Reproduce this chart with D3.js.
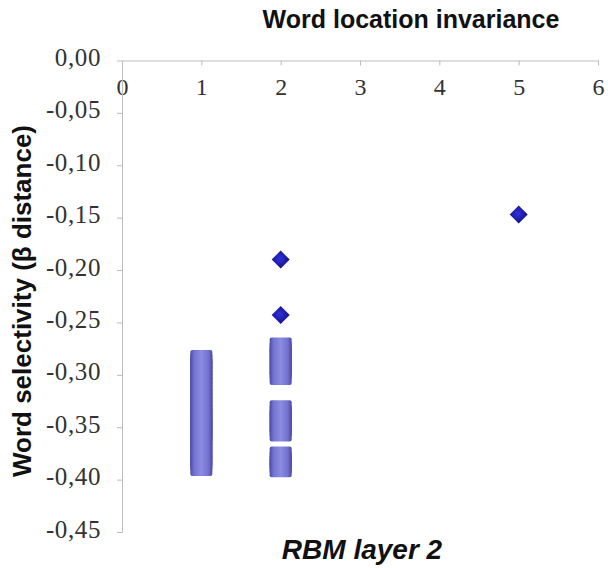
<!DOCTYPE html>
<html>
<head>
<meta charset="utf-8">
<script src="https://cdn.jsdelivr.net/npm/d3@7"></script>
<style>
  body { margin: 0; background: #fff; }
  svg { display: block; }
</style>
</head>
<body>
<svg id="chart" width="608" height="568"></svg>
<script>
// Word location invariance — RBM layer 2 scatter

const xTicks = [0, 1, 2, 3, 4, 5, 6];
const yTicks = [0, -0.05, -0.10, -0.15, -0.20, -0.25, -0.30, -0.35, -0.40, -0.45];

// one series: number of locations (x) vs word selectivity (y)
const pointX = [
  1, 1, 1, 1, 1, 1, 1, 1, 1, 1, 1, 1, 1, 1, 1, 1,
  1, 1, 1, 1, 1, 1, 1, 1, 1, 1, 1, 1, 1, 1, 1,
  2, 2, 2, 2, 2, 2, 2, 2,
  2, 2, 2, 2, 2, 2, 2,
  2, 2, 2, 2, 2,
  2, 2, 5
];
const pointY = [
  -0.284, -0.287, -0.291, -0.294, -0.298, -0.302, -0.305, -0.309, -0.313, -0.317, -0.320, -0.324, -0.328, -0.331, -0.335, -0.338,
  -0.341, -0.344, -0.347, -0.350, -0.352, -0.355, -0.357, -0.360, -0.364, -0.368, -0.372, -0.376, -0.380, -0.384, -0.389,
  -0.272, -0.276, -0.280, -0.285, -0.289, -0.293, -0.297, -0.302,
  -0.332, -0.336, -0.340, -0.344, -0.348, -0.352, -0.356,
  -0.376, -0.380, -0.384, -0.387, -0.390,
  -0.190, -0.243, -0.147
];

const svg = d3.select("#chart");

const x = d3.scaleLinear().domain([0, 6]).range([122, 598]);
const y = d3.scaleLinear().domain([-0.45, 0]).range([532, 60.5]);

const loc = d3.formatLocale({ decimal: ",", thousands: ".", grouping: [3], currency: ["", ""], minus: "-" });
const fmtY = loc.format(".2f");

// gradients
const defs = svg.append("defs");
const colGrad = defs.append("linearGradient").attr("id", "col-grad")
  .attr("x1", "0%").attr("x2", "100%").attr("y1", "0%").attr("y2", "0%");
[["0%", "#4c4ca6"], ["18%", "#7474d2"], ["50%", "#8c8ce2"], ["82%", "#7272d0"], ["100%", "#4a4aa2"]]
  .forEach(([o, c]) => colGrad.append("stop").attr("offset", o).attr("stop-color", c));
const dmGrad = defs.append("radialGradient").attr("id", "dm-grad")
  .attr("cx", "45%").attr("cy", "45%").attr("r", "60%");
[["0%", "#3030d8"], ["60%", "#1c1ca8"], ["100%", "#0c0c66"]]
  .forEach(([o, c]) => dmGrad.append("stop").attr("offset", o).attr("stop-color", c));

// axes
const axisColor = "#bdbdbd";
const xAxis = svg.append("g")
  .attr("transform", `translate(0,${y(0)})`)
  .call(d3.axisBottom(x).tickValues(xTicks).tickSize(5).tickSizeOuter(0).tickPadding(12).tickFormat(d3.format("d")));
const yAxis = svg.append("g")
  .attr("transform", `translate(${x(0)},0)`)
  .call(d3.axisLeft(y).tickValues(yTicks).tickSize(5).tickSizeOuter(0).tickPadding(16).tickFormat(fmtY));

[xAxis, yAxis].forEach(g => {
  g.select(".domain").attr("stroke", axisColor);
  g.selectAll(".tick line").attr("stroke", axisColor);
  g.selectAll(".tick text")
    .attr("fill", "#333")
    .attr("font-family", "'Liberation Serif', 'Times New Roman', serif")
    .attr("font-size", 24);
});
yAxis.selectAll(".tick text").attr("dy", "0.2em").attr("font-size", 25).attr("letter-spacing", 0.6);

// points: densely stacked ones drawn as tiles, isolated ones as diamonds
const pts = pointX.map((px, i) => ({ x: px, y: pointY[i] }));
pts.forEach(p => {
  p.dense = pts.some(q => q !== p && q.x === p.x && Math.abs(q.y - p.y) < 0.01);
});

const tileW = 22, tileH = 16;
svg.append("g").selectAll("rect")
  .data(pts.filter(p => p.dense))
  .join("rect")
  .attr("x", d => x(d.x) - tileW / 2)
  .attr("y", d => y(d.y) - tileH / 2)
  .attr("width", tileW)
  .attr("height", tileH)
  .attr("rx", 2)
  .attr("fill", "url(#col-grad)");

const r = 9;
svg.append("g").selectAll("path")
  .data(pts.filter(p => !p.dense))
  .join("path")
  .attr("transform", d => `translate(${x(d.x)},${y(d.y)})`)
  .attr("d", `M0,${-r}L${r},0L0,${r}L${-r},0Z`)
  .attr("fill", "url(#dm-grad)");

// titles
svg.append("text")
  .attr("x", 411).attr("y", 28)
  .attr("text-anchor", "middle")
  .attr("font-family", "'Liberation Sans', Arial, sans-serif")
  .attr("font-weight", "bold")
  .attr("font-size", 25)
  .attr("fill", "#111")
  .text("Word location invariance");

svg.append("text")
  .attr("transform", "translate(31,301) rotate(-90)")
  .attr("text-anchor", "middle")
  .attr("font-family", "'Liberation Sans', Arial, sans-serif")
  .attr("font-weight", "bold")
  .attr("font-size", 26)
  .attr("fill", "#111")
  .text("Word selectivity (β distance)");

svg.append("text")
  .attr("x", 362).attr("y", 559)
  .attr("text-anchor", "middle")
  .attr("font-family", "'Liberation Sans', Arial, sans-serif")
  .attr("font-weight", "bold")
  .attr("font-style", "italic")
  .attr("font-size", 28)
  .attr("fill", "#111")
  .text("RBM layer 2");
</script>
</body>
</html>
